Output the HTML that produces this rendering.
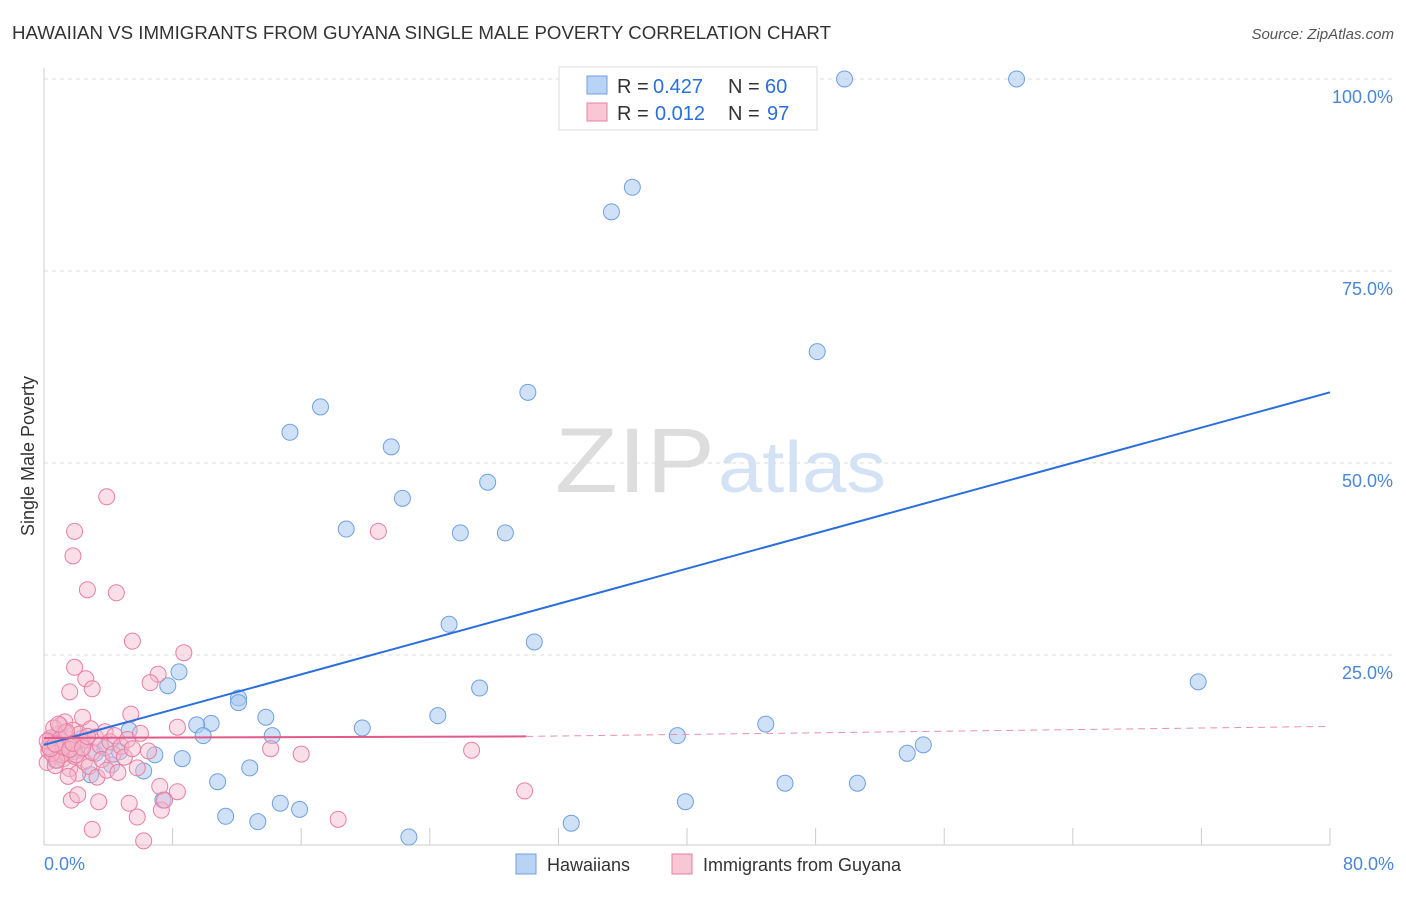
<!DOCTYPE html>
<html><head><meta charset="utf-8"><style>
body{margin:0;background:#fff;font-family:"Liberation Sans",sans-serif}
svg text{font-family:"Liberation Sans",sans-serif}
</style></head><body>
<svg id="c" width="1406" height="892" xmlns="http://www.w3.org/2000/svg">
<text x="12" y="39" font-size="18" fill="#333" textLength="819" lengthAdjust="spacingAndGlyphs">HAWAIIAN VS IMMIGRANTS FROM GUYANA SINGLE MALE POVERTY CORRELATION CHART</text>
<text x="1394" y="39" font-size="15" fill="#555" font-style="italic" text-anchor="end">Source: ZipAtlas.com</text>
<text x="34" y="456" font-size="18" fill="#333" text-anchor="middle" transform="rotate(-90 34 456)">Single Male Poverty</text>
<g><text x="555" y="492" font-size="92" fill="#ddd" font-family="Liberation Serif,serif" textLength="160" lengthAdjust="spacingAndGlyphs">ZIP</text><text x="718" y="492" font-size="72" fill="#d3e3f5" textLength="168" lengthAdjust="spacingAndGlyphs">atlas</text></g>
<g id="grid"></g><g id="axes"></g><g id="pts"></g><g id="lines"></g>
<g>
<rect x="559" y="67" width="258" height="63" fill="#fff" stroke="#ddd"/>
<rect x="587" y="76" width="20" height="18" fill="#b8d3f5" stroke="#6fa0e0"/>
<text x="617" y="93" font-size="20" fill="#333">R =</text><text x="653" y="93" font-size="20" fill="#2a6fdb">0.427</text>
<text x="728" y="93" font-size="20" fill="#333">N =</text><text x="765" y="93" font-size="20" fill="#2a6fdb">60</text>
<rect x="587" y="103" width="20" height="18" fill="#f9c6d6" stroke="#e87fa0"/>
<text x="617" y="120" font-size="20" fill="#333">R =</text><text x="655" y="120" font-size="20" fill="#2a6fdb">0.012</text>
<text x="728" y="120" font-size="20" fill="#333">N =</text><text x="767" y="120" font-size="20" fill="#2a6fdb">97</text>
</g>
<g>
<rect x="516" y="854" width="20" height="20" fill="#b8d3f5" stroke="#6fa0e0"/>
<text x="547" y="871" font-size="18" fill="#333">Hawaiians</text>
<rect x="672" y="854" width="20" height="20" fill="#f9c6d6" stroke="#e87fa0"/>
<text x="703" y="871" font-size="18" fill="#333">Immigrants from Guyana</text>
</g>
</svg>
<script>
const yTicks=[100,75,50,25];
const yTickLabels=["100.0%","75.0%","50.0%","25.0%"];
const xTickLabels=["0.0%","80.0%"];
const blueX=[49.8,60.5,36.6,35.3,48.1,30.1,17.2,15.3,21.6,27.6,22.3,18.8,25.9,28.7,25.2,30.5,71.8,8.4,7.7,27.1,12.1,12.1,13.8,10.4,9.5,24.5,19.8,44.9,9.9,14.2,39.4,54.7,53.7,5.3,6.9,8.6,4.7,3.2,4.2,3.8,12.8,6.2,2.9,10.8,46.1,50.6,7.4,39.9,14.7,15.9,11.3,13.3,32.8,22.7,1.0,1.6,0.4,2.4,1.9,0.7];
const blueY=[100,100,85.9,82.7,64.5,59.2,57.3,54.0,52.1,47.5,45.4,41.4,40.9,40.9,29.0,26.7,21.5,22.8,21.0,20.7,19.4,18.8,16.9,16.1,15.9,17.1,15.5,16.0,14.5,14.5,14.5,13.3,12.2,15.2,12.0,11.5,12.4,12.2,10.7,12.9,10.3,9.9,9.4,8.5,8.3,8.3,6.1,5.9,5.7,4.9,4.0,3.3,3.1,1.3,14.8,13.3,13.9,14.2,12.4,11.3];
const pinkX=[3.9,1.9,20.8,1.8,2.7,4.5,5.5,8.7,1.9,7.1,2.6,6.6,3.0,1.6,5.4,8.3,14.1,16.0,26.6,7.2,8.3,29.9,18.3,6.2,3.0,5.8,5.3,3.4,7.3,7.5,1.7,2.1,
0.3,0.5,0.6,0.8,0.9,1.0,1.1,1.2,1.3,1.4,1.5,1.6,1.7,1.8,1.9,2.0,2.1,2.2,2.3,2.4,2.5,2.6,2.8,2.9,3.0,3.2,3.3,3.5,3.6,3.8,3.9,4.1,4.3,4.4,4.6,4.8,5.0,5.2,5.5,5.8,6.0,6.5,0.2,0.4,0.7,0.9,1.1,1.3,0.6,0.3,1.5,2.0,0.5,0.8,1.0,1.2,1.4,0.2,0.4,0.7,0.9,1.6,1.8,2.4,2.7];
const pinkY=[45.6,41.1,41.1,37.9,33.5,33.1,26.8,25.3,23.4,22.5,21.9,21.4,20.6,20.2,17.3,15.6,12.8,12.1,12.6,7.9,7.2,7.3,3.6,0.8,2.3,3.9,5.7,5.9,4.8,6.1,6.1,6.8,
12.5,13.8,11.9,14.6,12.9,15.8,13.3,11.5,16.3,12.2,14.1,10.2,13.0,15.2,11.8,13.6,9.6,14.7,12.6,16.9,11.1,13.9,10.5,15.4,12.3,14.3,9.1,13.2,11.4,15.0,10.0,13.7,12.1,14.5,9.7,13.1,11.7,14.0,12.8,10.3,14.8,12.5,11.0,14.2,10.6,13.5,12.0,14.9,15.5,13.1,9.2,12.0,12.2,11.3,14.0,13.0,15.0,13.8,12.8,13.4,16.0,12.7,13.5,12.9,14.4];
const blueLine=[[0,13.3],[80,59.2]];
const pinkLine=[[0,14.2],[30,14.4],[80,15.7]];
const X=v=>44+v/80*1286, Y=v=>847-v/100*768;
const NS="http://www.w3.org/2000/svg";
function mk(p,t,a){const e=document.createElementNS(NS,t);for(const k in a)e.setAttribute(k,a[k]);p.appendChild(e);return e;}
const grid=document.getElementById('grid'),axes=document.getElementById('axes'),pts=document.getElementById('pts'),lines=document.getElementById('lines');
yTicks.forEach((t,i)=>{
 const l=mk(grid,'line',{x1:44,x2:1394,y1:Y(t),y2:Y(t),stroke:'#ddd','stroke-dasharray':'4,4'});
 
 
 const tx=mk(axes,'text',{x:1393,y:Y(t)+24,'font-size':18,fill:'#4a86d8','text-anchor':'end'});
 tx.textContent=yTickLabels[i];
 
 
});
mk(axes,'line',{x1:44,x2:44,y1:68,y2:845,stroke:'#ccc'});
mk(axes,'line',{x1:44,x2:1330,y1:845,y2:845,stroke:'#ccc'});
for(let v=8;v<=80;v+=8){
 const tk=mk(axes,'line',{x1:X(v),x2:X(v),y1:828,y2:845,stroke:'#ccc'});
 
 
}
[[0,'start',44],[80,'end',1394]].forEach((d,i)=>{
 const tx=mk(axes,'text',{x:d[2],y:870,'font-size':18,fill:'#4a86d8','text-anchor':d[1]});
 tx.textContent=xTickLabels[i];
 
 
});
blueX.forEach((x,i)=>{
 const c=mk(pts,'circle',{cx:X(x),cy:Y(blueY[i]),r:8,fill:'rgba(168,200,240,0.55)',stroke:'#6fa0e0','stroke-width':1});
 
 
});
pinkX.forEach((x,i)=>{
 const c=mk(pts,'circle',{cx:X(x),cy:Y(pinkY[i]),r:8,fill:'rgba(245,184,204,0.45)',stroke:'#e87fa0','stroke-width':1});
 
 
});
const bl=mk(lines,'line',{x1:X(blueLine[0][0]),y1:Y(blueLine[0][1]),x2:X(blueLine[1][0]),y2:Y(blueLine[1][1]),stroke:'#2a6fdb','stroke-width':2});


const pl=mk(lines,'line',{x1:X(pinkLine[0][0]),y1:Y(pinkLine[0][1]),x2:X(pinkLine[1][0]),y2:Y(pinkLine[1][1]),stroke:'#e05a8a','stroke-width':2});


const pd=mk(lines,'line',{x1:X(pinkLine[1][0]),y1:Y(pinkLine[1][1]),x2:X(pinkLine[2][0]),y2:Y(pinkLine[2][1]),stroke:'#e890ae','stroke-width':1,'stroke-dasharray':'7,5'});


</script>
</body></html>
